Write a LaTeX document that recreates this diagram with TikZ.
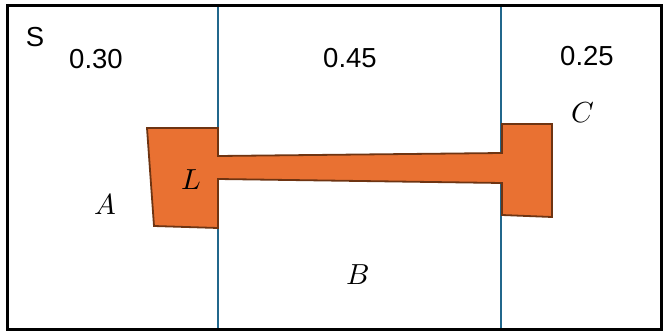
\documentclass[tikz,border=0pt]{standalone}
\usepackage{fontspec}
\setmainfont{Liberation Sans}
\usepackage{unicode-math}
\definecolor{divblue}{RGB}{33,103,140}
\definecolor{shapeorange}{RGB}{233,113,50}
\definecolor{shapeedge}{RGB}{110,52,18}
\begin{document}
\begin{tikzpicture}[x=1pt,y=-1pt,
  lbl/.style={font=\fontsize{27.5}{30}\selectfont, inner sep=0pt},
  var/.style={font=\fontsize{29}{31}\selectfont, inner sep=0pt},
  divider/.style={draw=divblue, line width=2.3pt},
  frame/.style={draw=black, line width=3pt}]
\useasboundingbox (0,0) rectangle (667,332);
\fill[white] (0,0) rectangle (667,332);
% dividers
\coordinate (d1t) at (218,5); \coordinate (d1b) at (218,329);
\coordinate (d2t) at (501,5); \coordinate (d2b) at (501,329);
\draw[divider] (d1t) -- (d1b);
\draw[divider] (d2t) -- (d2b);
% shape
\draw[fill=shapeorange, draw=shapeedge, line width=1.8pt, line join=miter]
  (147,128) -- (218,128) -- (218,156) -- (502,153) -- (502,124) -- (552,124)
  -- (552,217) -- (502,215) -- (502,183) -- (218,179) -- (218,228) -- (154,226) -- cycle;
% frame
\draw[frame] (7,5) rectangle (661,329);
% labels
\node[lbl] (s) at (35,37) {S};
\node[lbl] (p1) at (96,59) {0.30};
\node[lbl] (p2) at (350,58) {0.45};
\node[lbl] (p3) at (587,56) {0.25};
\node[var] (c) at (583,113) {$C$};
\node[var] (l) at (191,180) {$L$};
\node[var] (a) at (105,204) {$A$};
\node[var] (b) at (358,275) {$B$};
\end{tikzpicture}
\end{document}
